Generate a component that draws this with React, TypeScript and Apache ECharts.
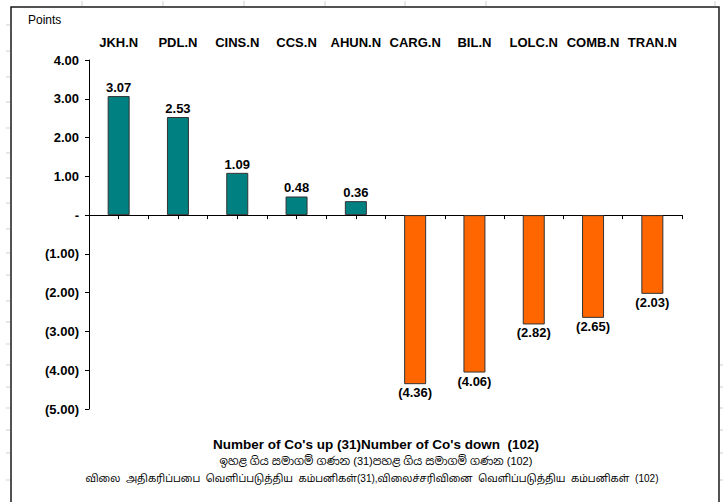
import React, { useEffect, useRef } from "react";
import * as echarts from "echarts";

const categories = ["JKH.N", "PDL.N", "CINS.N", "CCS.N", "AHUN.N", "CARG.N", "BIL.N", "LOLC.N", "COMB.N", "TRAN.N"];
const values = [3.07, 2.53, 1.09, 0.48, 0.36, -4.36, -4.06, -2.82, -2.65, -2.03];
const yMin = -5;
const yMax = 4;
const yStep = 1;
const unitLabel = "Points";
const footerEn = "Number of Co's up (31)Number of Co's down  (102)";
const footerSi = "ඉහළ ගිය සමාගම් ගණන (31)පහළ ගිය සමාගම් ගණන (102)";
const footerTa = "விலை  அதிகரிப்பபை  வெளிப்படுத்திய  கம்பனிகள்(31),விலைச்சரிவினை  வெளிப்படுத்திய  கம்பனிகள்  (102)";

// spreadsheet gridline stubs around the chart frame (decoration)
const colStubs = [82, 163, 244, 325, 405, 486, 715];
const rowStubs = [25, 51, 77, 102, 128, 153, 178, 203, 229, 253, 275, 301, 322, 344, 365, 387, 408, 430, 453, 480];
const rightRowStubs = [365, 387, 408, 430, 453, 480];

const FONT = '"Liberation Sans", Arial, "Noto Sans", sans-serif';

function fmt(v: number): string {
  if (Math.abs(v) < 1e-9) return "-";
  if (v < 0) return "(" + Math.abs(v).toFixed(2) + ")";
  return v.toFixed(2);
}

export default function App() {
  const ref = useRef<HTMLDivElement>(null);
  useEffect(() => {
    if (!ref.current) return;
    const chart = echarts.init(ref.current, null, { renderer: "svg" });
    const data = values.map((v) => ({
      value: v,
      itemStyle: { color: v >= 0 ? "#008080" : "#FF6600" },
      label: { position: v >= 0 ? "top" : "bottom" },
    }));
    const halfCats = categories.flatMap((c) => [c + "a", c + "b"]);
    const graphics: any[] = [];
    colStubs.forEach((x) =>
      graphics.push({ type: "line", shape: { x1: x, y1: 1, x2: x, y2: 6 }, style: { stroke: "#cfcfcf", lineWidth: 1 }, silent: true })
    );
    rowStubs.forEach((y) =>
      graphics.push({ type: "line", shape: { x1: 6, y1: y, x2: 10, y2: y }, style: { stroke: "#cfcfcf", lineWidth: 1 }, silent: true })
    );
    rightRowStubs.forEach((y) =>
      graphics.push({ type: "line", shape: { x1: 720, y1: y, x2: 723, y2: y }, style: { stroke: "#cfcfcf", lineWidth: 1 }, silent: true })
    );
    graphics.push({
      type: "rect",
      shape: { x: 11, y: 7, width: 708, height: 520 },
      style: { fill: "none", stroke: "#1a1a1a", lineWidth: 1.5 },
      silent: true,
    });
    graphics.push({
      type: "text",
      left: 28,
      top: 14,
      style: { text: unitLabel, font: "12px " + FONT, fill: "#000" },
    });
    graphics.push({
      type: "text",
      x: 376,
      y: 444,
      style: { text: footerEn, font: "bold 13.5px " + FONT, fill: "#000", align: "center", verticalAlign: "middle" },
    });
    graphics.push({
      type: "text",
      x: 376,
      y: 461,
      style: { text: footerSi, font: "11px " + FONT + ', "Noto Sans Sinhala"', fill: "#000", align: "center", verticalAlign: "middle" },
    });
    graphics.push({
      type: "text",
      x: 372,
      y: 478,
      style: { text: footerTa, font: "10px " + FONT + ', "Noto Sans Tamil"', fill: "#000", align: "center", verticalAlign: "middle" },
    });

    chart.setOption({
      animation: false,
      backgroundColor: "#fff",
      grid: { left: 89, right: 41, top: 60, bottom: 93, containLabel: false },
      xAxis: [
        {
          // zero line with ticks at category centres and boundaries
          type: "category",
          data: halfCats,
          position: "bottom",
          axisLine: { show: true, onZero: true, lineStyle: { color: "#000", width: 1 } },
          axisTick: { show: true, length: 4, interval: 0, lineStyle: { color: "#000", width: 1 } },
          axisLabel: { show: false },
          splitLine: { show: false },
        },
        {
          type: "category",
          data: categories,
          position: "top",
          axisLine: { show: false },
          axisTick: { show: false },
          axisLabel: { show: true, margin: 11, color: "#000", fontWeight: "bold", fontSize: 13, fontFamily: FONT, interval: 0 },
          splitLine: { show: false },
        },
        {
          type: "category",
          data: categories,
          position: "bottom",
          axisLine: { show: false, onZero: false },
          axisTick: { show: false },
          axisLabel: { show: false },
          splitLine: { show: false },
        },
      ],
      yAxis: {
        type: "value",
        min: yMin,
        max: yMax,
        interval: yStep,
        axisLine: { show: true, lineStyle: { color: "#000", width: 1 } },
        axisTick: { show: true, length: 4, lineStyle: { color: "#000" } },
        axisLabel: { color: "#000", fontWeight: "bold", fontSize: 13, fontFamily: FONT, margin: 10, formatter: (v: number) => fmt(v) },
        splitLine: { show: false },
      },
      series: [
        {
          type: "bar",
          xAxisIndex: 2,
          data,
          barWidth: 22,
          itemStyle: { borderColor: "#333", borderWidth: 1 },
          label: {
            show: true,
            color: "#000",
            fontWeight: "bold",
            fontSize: 13,
            fontFamily: FONT,
            distance: 2,
            formatter: (p: any) => fmt(p.value),
          },
        },
      ],
      graphic: graphics,
    });
    return () => chart.dispose();
  }, []);
  return <div ref={ref} style={{ position: "absolute", left: 0, top: 0, width: 723, height: 502 }} />;
}
